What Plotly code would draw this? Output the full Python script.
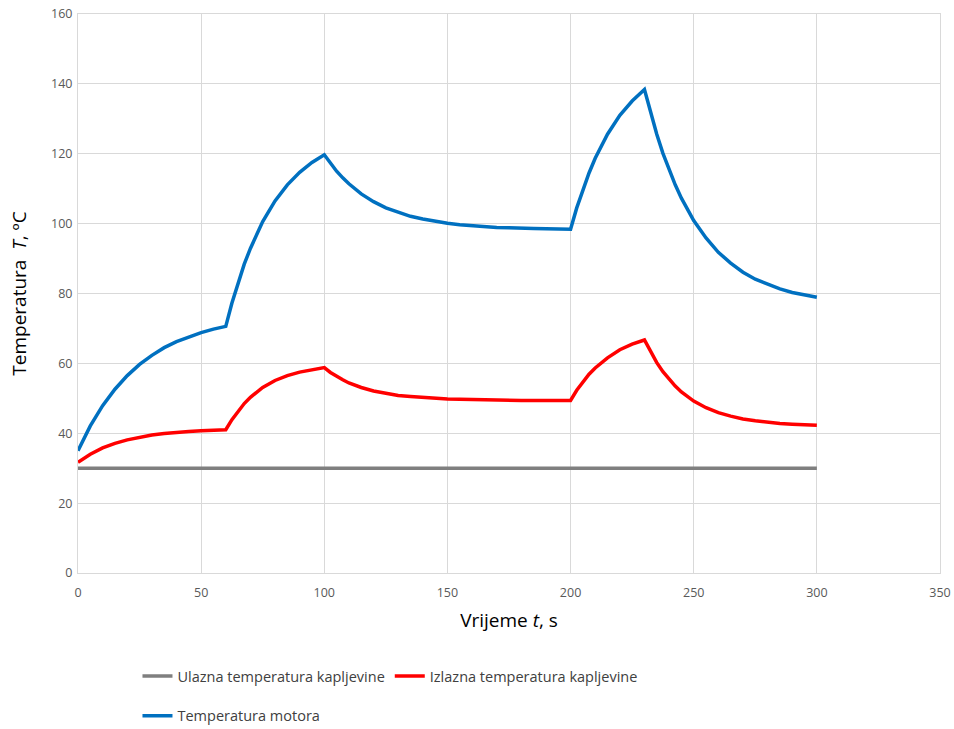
import plotly.graph_objects as go

time_s = [0, 5, 10, 15, 20, 25, 30, 35, 40, 45, 50, 55, 60,
          62.5, 65, 67.5, 70, 75, 80, 85, 90, 95, 100,
          102.5, 105, 107.5, 110, 115, 120, 125, 130, 135, 140, 145, 150, 155, 160, 165, 170, 175, 180, 185, 190, 195, 200,
          202.5, 205, 207.5, 210, 215, 220, 225, 230,
          232.5, 235, 237.5, 240, 242.5, 245, 250, 255, 260, 265, 270, 275, 280, 285, 290, 295, 300]

inlet_temp = [30.0] * len(time_s)

outlet_temp = [31.7, 34.0, 35.8, 37.1, 38.1, 38.9, 39.5, 39.9, 40.3, 40.5, 40.7, 40.9, 41.0,
               43.9, 46.4, 48.5, 50.3, 53.1, 55.1, 56.5, 57.5, 58.2, 58.8,
               57.4, 56.3, 55.3, 54.4, 53.1, 52.1, 51.4, 50.8, 50.5, 50.2, 50.0, 49.8, 49.7, 49.6, 49.5, 49.5, 49.4, 49.4, 49.4, 49.4, 49.4, 49.4,
               52.3, 54.7, 56.9, 58.7, 61.6, 63.9, 65.5, 66.7,
               63.2, 60.2, 57.6, 55.4, 53.5, 51.8, 49.2, 47.3, 45.9, 44.9, 44.1, 43.6, 43.1, 42.8, 42.6, 42.4, 42.3]

motor_temp = [35.0, 42.1, 47.9, 52.6, 56.5, 59.7, 62.3, 64.5, 66.2, 67.6, 68.8, 69.8, 70.6,
              77.3, 83.2, 88.4, 92.9, 100.6, 106.5, 111.1, 114.7, 117.5, 119.7,
              117.2, 115.0, 113.1, 111.4, 108.5, 106.3, 104.5, 103.2, 102.1, 101.3, 100.6, 100.1, 99.7, 99.4, 99.1, 98.9, 98.8, 98.6, 98.6, 98.5, 98.5, 98.4,
              104.5, 109.8, 114.5, 118.7, 125.6, 131.0, 135.1, 138.4,
              131.6, 125.6, 120.1, 115.4, 111.1, 107.3, 100.9, 95.9, 91.8, 88.7, 86.1, 84.1, 82.6, 81.3, 80.3, 79.5, 78.9]

series_names = ["Ulazna temperatura kapljevine", "Izlazna temperatura kapljevine", "Temperatura motora"]
series_colors = ["#7f7f7f", "#ff0000", "#0070c0"]

x_ticks = [0, 50, 100, 150, 200, 250, 300, 350]
y_ticks = [0, 20, 40, 60, 80, 100, 120, 140, 160]

FONT = "Open Sans"

fig = go.Figure()
for name, ys, col, leg in zip(series_names, [inlet_temp, outlet_temp, motor_temp], series_colors,
                              ["legend", "legend", "legend2"]):
    fig.add_trace(go.Scatter(x=time_s, y=ys, mode="lines", name=name,
                             line=dict(color=col, width=3.5), legend=leg))

axis_common = dict(showgrid=True, gridcolor="#d9d9d9", gridwidth=1, zeroline=False,
                   showline=True, linecolor="#d9d9d9", linewidth=1, mirror=True,
                   automargin=False,
                   tickfont=dict(family=FONT, size=12.5, color="#595959"))

fig.update_layout(
    width=954, height=729,
    margin=dict(l=78, r=14, t=14, b=156, autoexpand=False),
    paper_bgcolor="white", plot_bgcolor="white",
    font=dict(family=FONT, color="#404040"),
    xaxis=dict(range=[0, 350], tickvals=x_ticks, **axis_common,
               ticks="outside", ticklen=8, tickcolor="rgba(0,0,0,0)",
               title=dict(text="Vrijeme <i>t</i>, s", font=dict(family=FONT, size=19, color="#000000"), standoff=13)),
    yaxis=dict(range=[0, 160], tickvals=y_ticks, **axis_common,
               ticks="outside", ticklen=2, tickcolor="rgba(0,0,0,0)",
               title=dict(text="Temperatura  <i>T</i>, ºC", font=dict(family=FONT, size=19, color="#000000"), standoff=19)),
    legend=dict(orientation="h", x=0.069, xanchor="left", y=-0.1846, yanchor="middle",
                font=dict(family=FONT, size=14.5, color="#404040"), itemwidth=30,
                bgcolor="rgba(0,0,0,0)"),
    legend2=dict(orientation="h", x=0.069, xanchor="left", y=-0.2556, yanchor="middle",
                 font=dict(family=FONT, size=14.5, color="#404040"), itemwidth=30,
                 bgcolor="rgba(0,0,0,0)"),
    showlegend=True,
)

fig.write_html("out.html", config={"displayModeBar": False},
               post_script="document.body.style.margin='0px';document.body.style.overflow='hidden';")
